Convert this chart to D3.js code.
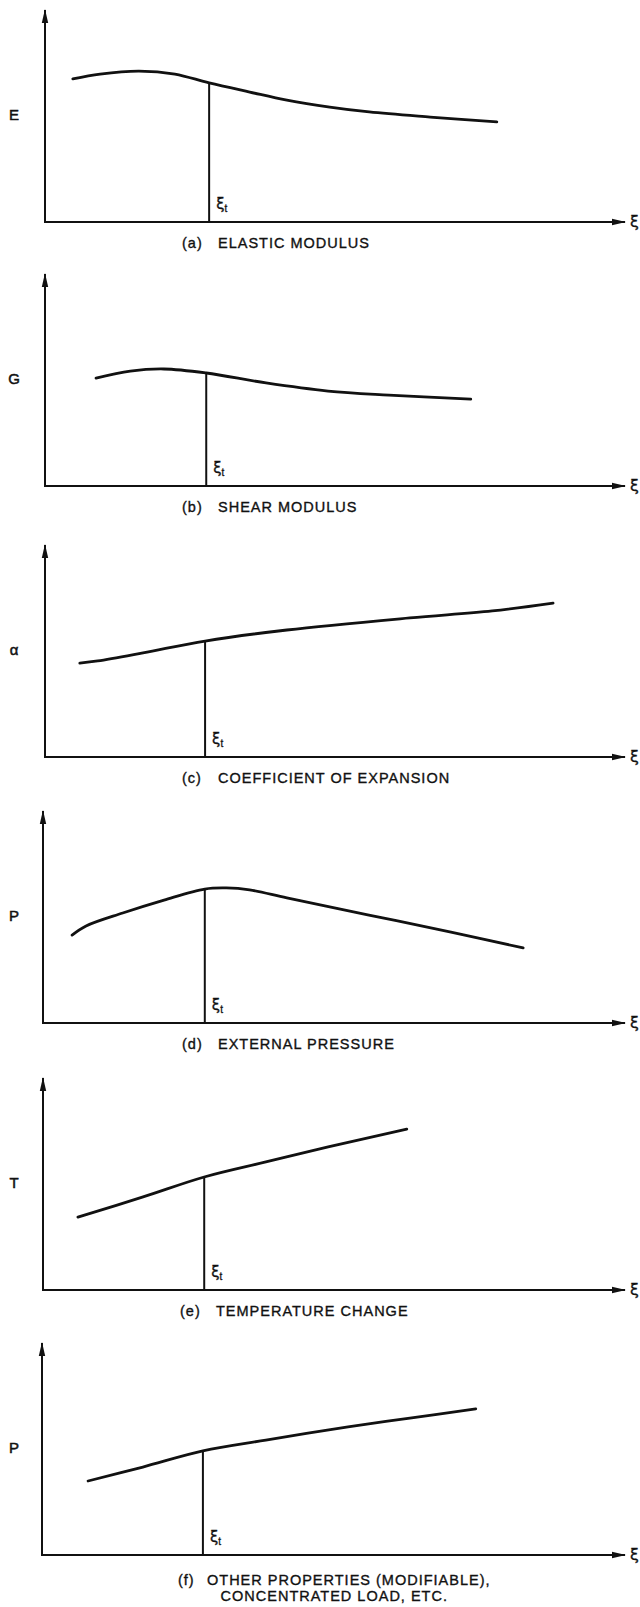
<!DOCTYPE html>
<html>
<head>
<meta charset="utf-8">
<script src="https://cdn.jsdelivr.net/npm/d3@7"></script>
<style>
  body { margin: 0; background: #fff; }
  svg { display: block; }
</style>
</head>
<body>
<div id="chart"></div>
<script>
// panel labels
const panelIds = ["a", "b", "c", "d", "e", "f"];
const yLabels = ["E", "G", "\u03b1", "P", "T", "P"];
const captionTags = ["(a)", "(b)", "(c)", "(d)", "(e)", "(f)"];
const captions = [
  ["ELASTIC MODULUS"],
  ["SHEAR MODULUS"],
  ["COEFFICIENT OF EXPANSION"],
  ["EXTERNAL PRESSURE"],
  ["TEMPERATURE CHANGE"],
  ["OTHER PROPERTIES (MODIFIABLE),", "CONCENTRATED LOAD, ETC."],
];

// strain (0-100 along the axis) and property value (0-100 up the axis)
const curveX = [
  [4.8, 9.5, 16.2, 22.4, 28.3, 35.3, 41.7, 49.1, 55.9, 66.4, 77.9],
  [8.8, 14.7, 20.5, 27.8, 38.1, 48.8, 59.3, 73.4],
  [6.0, 9.1, 16.9, 27.6, 41.7, 62.9, 77.1, 87.6],
  [5.0, 7.4, 13.7, 20.8, 27.8, 31.5, 35.5, 41.9, 56.0, 70.1, 82.5],
  [6.0, 17.2, 27.7, 38.3, 49.0, 62.5],
  [7.9, 17.3, 27.6, 38.4, 52.5, 63.1, 74.4],
];
const curveY = [
  [67.5, 69.8, 71.2, 69.8, 65.6, 61.3, 57.5, 54.2, 51.9, 49.5, 47.2],
  [50.9, 54.2, 55.2, 53.3, 48.6, 44.8, 42.9, 41.0],
  [44.3, 45.3, 49.1, 54.7, 59.9, 65.6, 68.9, 72.6],
  [41.5, 45.8, 51.9, 58.0, 63.2, 63.7, 62.8, 59.0, 50.9, 42.9, 35.4],
  [34.4, 43.9, 53.3, 60.4, 67.5, 75.9],
  [34.9, 41.5, 49.1, 54.2, 60.4, 64.6, 68.9],
];
// transition strain ξt for each panel
const xiT = [28.3, 27.8, 27.6, 27.8, 27.7, 27.6];

const width = 640;
const height = 1607;

// where each small plot sits on the page
const axisBottom = [222, 486, 757, 1023, 1290, 1555];
const axisLeft = [45, 45, 45, 43, 43, 42];
const axisRight = 625;
const plotHeight = 212;
const captionLeft = [182, 182, 182, 182, 180, 178];
const captionGap = [36, 36, 36, 36, 36, 29];
const captionDrop = [26, 26, 26, 26, 26, 30];

const ink = "#111";
const font = "'Liberation Sans', Arial, sans-serif";
const greek = "'DejaVu Sans', sans-serif";

const svg = d3
  .select("#chart")
  .append("svg")
  .attr("width", width)
  .attr("height", height)
  .style("background", "#fff");

// arrowheads for both axes
const defs = svg.append("defs");
defs
  .append("marker")
  .attr("id", "arrow")
  .attr("viewBox", "0 0 14 8")
  .attr("refX", 13)
  .attr("refY", 4)
  .attr("markerWidth", 14)
  .attr("markerHeight", 8)
  .attr("markerUnits", "userSpaceOnUse")
  .attr("orient", "auto")
  .append("path")
  .attr("d", "M0,0.8 L14,4 L0,7.2 Z")
  .attr("fill", ink);

// small helper so every caption line looks the same
const captionText = (sel) =>
  sel
    .attr("font-family", font)
    .attr("font-size", 14.5)
    .attr("letter-spacing", 1)
    .attr("fill", ink)
    .attr("stroke", ink)
    .attr("stroke-width", 0.35);

panelIds.forEach((id, i) => {
  const x = d3.scaleLinear().domain([0, 100]).range([axisLeft[i], axisRight]);
  const y = d3
    .scaleLinear()
    .domain([0, 100])
    .range([axisBottom[i], axisBottom[i] - plotHeight]);

  const g = svg.append("g").attr("class", "panel-" + id);

  // y axis with arrow at the top
  g.append("line")
    .attr("x1", x(0))
    .attr("y1", y(0) + 1)
    .attr("x2", x(0))
    .attr("y2", y(100))
    .attr("stroke", ink)
    .attr("stroke-width", 2)
    .attr("marker-end", "url(#arrow)");

  // x axis with arrow at the right
  g.append("line")
    .attr("x1", x(0) - 1)
    .attr("y1", y(0))
    .attr("x2", x(100))
    .attr("y2", y(0))
    .attr("stroke", ink)
    .attr("stroke-width", 2)
    .attr("marker-end", "url(#arrow)");

  // ξ at the end of the strain axis
  g.append("text")
    .attr("x", x(100) + 5)
    .attr("y", y(0) + 5)
    .attr("font-family", greek)
    .attr("font-size", 16)
    .attr("fill", ink)
    .attr("stroke", ink)
    .attr("stroke-width", 0.3)
    .text("\u03be");

  // property symbol on the left
  g.append("text")
    .attr("x", 14)
    .attr("y", y(50))
    .attr("text-anchor", "middle")
    .attr("dominant-baseline", "middle")
    .attr("font-family", font)
    .attr("font-size", 15)
    .attr("fill", ink)
    .attr("stroke", ink)
    .attr("stroke-width", 0.5)
    .text(yLabels[i]);

  const pts = curveX[i].map((v, k) => [v, curveY[i][k]]);
  const line = d3
    .line()
    .x((d) => x(d[0]))
    .y((d) => y(d[1]))
    .curve(d3.curveCatmullRom.alpha(0.5));

  // value of the curve at ξt, so the vertical line meets it
  const yAtT = (() => {
    const k = d3.bisector((d) => d[0]).left(pts, xiT[i]);
    if (k <= 0) return pts[0][1];
    if (k >= pts.length) return pts[pts.length - 1][1];
    const [x0, y0] = pts[k - 1];
    const [x1, y1] = pts[k];
    return y0 + ((xiT[i] - x0) / (x1 - x0)) * (y1 - y0);
  })();

  g.append("line")
    .attr("x1", x(xiT[i]))
    .attr("y1", y(0))
    .attr("x2", x(xiT[i]))
    .attr("y2", y(yAtT))
    .attr("stroke", ink)
    .attr("stroke-width", 2);

  g.append("path")
    .datum(pts)
    .attr("fill", "none")
    .attr("stroke", ink)
    .attr("stroke-width", 2.8)
    .attr("stroke-linecap", "round")
    .attr("d", line);

  // ξt label beside the transition line
  const lbl = g
    .append("text")
    .attr("x", x(xiT[i]) + 7)
    .attr("y", y(0) - 13)
    .attr("font-family", greek)
    .attr("font-size", 15)
    .attr("fill", ink)
    .attr("stroke", ink)
    .attr("stroke-width", 0.3);
  lbl.append("tspan").text("\u03be");
  lbl
    .append("tspan")
    .attr("font-family", font)
    .attr("font-size", 10)
    .attr("dy", 3)
    .text("t");

  // caption under the plot: tag, then the words
  const cy = y(0) + captionDrop[i];
  const cap = captions[i];
  captionText(g.append("text").attr("x", captionLeft[i]).attr("y", cy)).text(
    captionTags[i]
  );
  const first = captionText(
    g
      .append("text")
      .attr("x", captionLeft[i] + captionGap[i])
      .attr("y", cy)
  ).text(cap[0]);
  if (cap.length > 1) {
    const box = first.node().getBBox();
    const mid = (captionLeft[i] + box.x + box.width) / 2;
    captionText(
      g
        .append("text")
        .attr("x", mid)
        .attr("y", cy + 16)
        .attr("text-anchor", "middle")
    ).text(cap[1]);
  }
});
</script>
</body>
</html>
